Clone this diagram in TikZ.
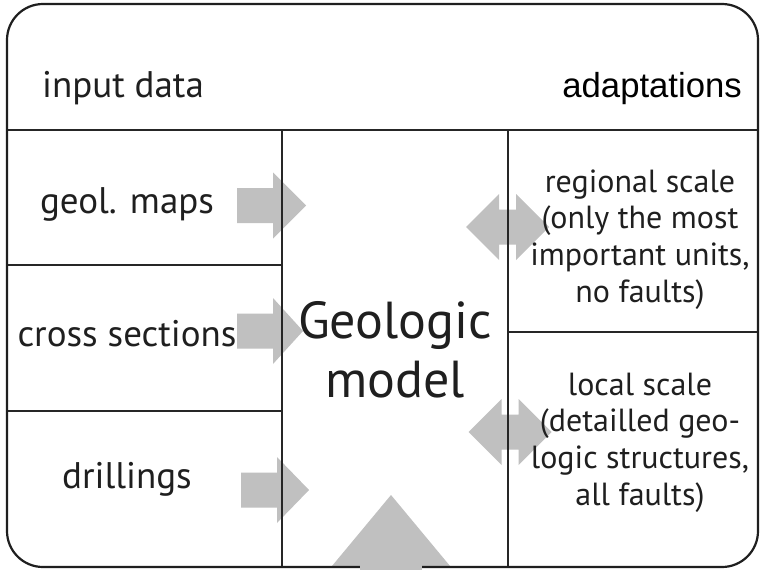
\documentclass[tikz,border=0pt]{standalone}
\usepackage{fontspec}
\setmainfont{PT Sans}
\newfontfamily\arialfont{Liberation Sans}
\begin{document}
\begin{tikzpicture}[x=1pt,y=-1pt,
  frame/.style={draw=black!88, line width=2.2pt},
  grid/.style={draw=black!85, line width=1.4pt},
  lbl/.style={font=\fontsize{37}{44}\selectfont, inner sep=0pt, text=black!88},
  side/.style={font=\fontsize{32}{36.6}\selectfont, inner sep=0pt, align=center, text=black!88},
  big/.style={font=\fontsize{52}{59}\selectfont, inner sep=0pt, align=center, text=black!88},
  fill arrow/.style={fill=arrowgray, draw=none},
  rarrow/.pic={\path[fill arrow] (0,-17.5) -- (36,-17.5) -- (36,-33) -- (#1,0)
      -- (36,33) -- (36,17.5) -- (0,17.5) -- cycle;},
  darrow/.pic={\path[fill arrow] (-41.5,0) -- (-8.5,-33) -- (-8.5,-17.5) -- (8.5,-17.5)
      -- (8.5,-33) -- (41.5,0) -- (8.5,33) -- (8.5,17.5) -- (-8.5,17.5) -- (-8.5,33) -- cycle;}
]
\definecolor{arrowgray}{RGB}{192,192,192}
\useasboundingbox (0,0) rectangle (760,570);
\fill[white] (0,0) rectangle (760,570);

% grey arrows feeding the model and linking it to the adaptations
\pic at (237,205.5) {rarrow=69};
\pic at (237,331) {rarrow=66};
\pic at (241,490) {rarrow=68};
\pic at (507.5,227) {darrow};
\pic at (510,432) {darrow};
\path[fill arrow] (332,566) -- (391,495) -- (450,566) -- cycle;

% table frame and cell borders
\coordinate (hl) at (7,130);  \coordinate (hr) at (758,130);
\coordinate (c1t) at (282,130); \coordinate (c1b) at (282,567);
\coordinate (c2t) at (508,130); \coordinate (c2b) at (508,567);
\coordinate (r1l) at (7,265);  \coordinate (r1r) at (282,265);
\coordinate (r2l) at (7,411);  \coordinate (r2r) at (282,411);
\coordinate (s1l) at (508,332); \coordinate (s1r) at (758,332);
\draw[grid] (hl) -- (hr);
\draw[grid] (c1t) -- (c1b);
\draw[grid] (c2t) -- (c2b);
\draw[grid] (r1l) -- (r1r);
\draw[grid] (r2l) -- (r2r);
\draw[grid] (s1l) -- (s1r);
\draw[frame, rounded corners=36pt] (7,4) rectangle (758,567);
\path[fill arrow] (360,564.5) rectangle (422,570);

% headings
\node[lbl, anchor=base west] (input) at (42,97) {input data};
\node[inner sep=0pt, anchor=base east, font=\arialfont\fontsize{34.7}{40}\selectfont] (adapt) at (742,97) {adaptations};

% input data sources
\node[lbl, anchor=base] (maps) at (127,213) {geol. maps};
\node[lbl, anchor=base] (cross) at (127,346) {cross sections};
\node[lbl, anchor=base] (drill) at (127,488) {drillings};

% model
\node[big, anchor=base] (model) at (395,397) {Geologic\\model};

% adaptations
\node[side, anchor=base] (regional) at (640,302) {regional scale\\(only the most\\important units,\\no faults)};
\node[side, anchor=base] (local) at (640,505) {local scale\\(detailled geo-\\logic structures,\\all faults)};
\end{tikzpicture}
\end{document}
